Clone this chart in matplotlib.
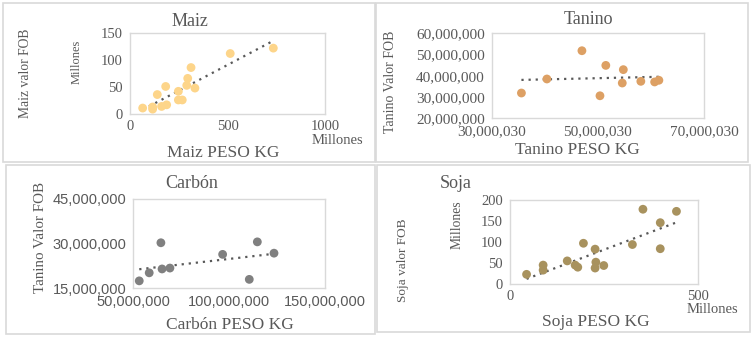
import numpy as np
import matplotlib
matplotlib.use("Agg")
import matplotlib.pyplot as plt
from matplotlib.patches import Rectangle
from matplotlib.ticker import FuncFormatter

# ---------------- data ----------------
maiz_peso = [65, 116, 116, 162, 188, 140, 183, 248, 248, 268, 291, 296, 333, 313, 514, 735]  # millones
maiz_fob = [11, 13, 9, 14, 17, 36, 51, 42, 26, 26, 53, 66, 48, 86, 112, 122]  # millones

tanino_peso = [35.6e6, 40.4e6, 47.0e6, 50.4e6, 51.5e6, 54.8e6, 54.6e6, 58.1e6, 60.7e6, 61.5e6]
tanino_fob = [31.9e6, 38.5e6, 51.8e6, 30.6e6, 44.9e6, 42.9e6, 36.6e6, 37.4e6, 37.1e6, 37.9e6]

carbon_peso = [53.1e6, 58.3e6, 64.4e6, 65.0e6, 69.1e6, 96.6e6, 110.5e6, 114.7e6, 123.4e6]
carbon_fob = [17.5e6, 20.2e6, 30.3e6, 21.5e6, 21.8e6, 26.4e6, 18.0e6, 30.6e6, 26.8e6]

soja_peso = [44, 88, 88, 152, 173, 180, 195, 226, 228, 226, 249, 325, 353, 399, 399, 442]  # millones
soja_fob = [23, 45, 33, 55, 45, 40, 97, 83, 52, 38, 44, 94, 178, 146, 84, 173]  # millones

maiz_xticks = [0, 500, 1000]
maiz_yticks = [0, 50, 100, 150]
tanino_xticks = [30000030, 50000030, 70000030]
tanino_yticks = [20e6, 30e6, 40e6, 50e6, 60e6]
carbon_xticks = [50e6, 100e6, 150e6]
carbon_yticks = [15e6, 30e6, 45e6]
soja_xticks = [0, 500]
soja_yticks = [0, 50, 100, 150, 200]

# ---------------- style ----------------
W, H = 751, 337
SERIF = "Liberation Serif"
SANS = "Liberation Sans"
TXT = "#595959"
TREND = "#595959"

fig = plt.figure(figsize=(W / 100, H / 100), dpi=100)
fig.patch.set_facecolor("white")


def px(x, y):
    return x / W, 1 - y / H


def axes_px(x0, y0, x1, y1):
    return fig.add_axes([x0 / W, 1 - y1 / H, (x1 - x0) / W, (y1 - y0) / H])


def panel(x0, y0, x1, y1):
    fig.patches.append(Rectangle((x0 / W, 1 - y1 / H), (x1 - x0) / W, (y1 - y0) / H,
                                 transform=fig.transFigure, fill=False,
                                 edgecolor="#D9D9D9", linewidth=1.2, zorder=0))


def ftext(x, y, s, size, rot=0, family=SERIF, **kw):
    fig.text(*px(x, y), s, fontsize=size, rotation=rot, family=family, color=TXT,
             ha="center", va="center", **kw)


comma = FuncFormatter(lambda v, p: f"{int(round(v)):,}")
plain = FuncFormatter(lambda v, p: f"{int(round(v))}")


def style_ax(ax, xt, yt, xl, yl, fmt, tickfam, tsize, xpad=5):
    ax.set_xlim(*xl)
    ax.set_ylim(*yl)
    ax.set_xticks(xt)
    ax.set_yticks(yt)
    ax.xaxis.set_major_formatter(fmt)
    ax.yaxis.set_major_formatter(fmt)
    ax.tick_params(length=0, colors=TXT, labelsize=tsize, pad=5)
    ax.tick_params(axis="x", pad=xpad)
    for lab in ax.get_xticklabels() + ax.get_yticklabels():
        lab.set_family(tickfam)
    for s in ax.spines.values():
        s.set_color("#D9D9D9")
        s.set_linewidth(1.0)


def scatter_trend(ax, x, y, color):
    x = np.asarray(x, float)
    y = np.asarray(y, float)
    ax.scatter(x, y, s=40, color=color, edgecolors="none", zorder=3)
    m, b = np.polyfit(x, y, 1)
    xs = np.array([x.min(), x.max()])
    ax.plot(xs, m * xs + b, linestyle=(0, (1, 2.2)), color=TREND, linewidth=1.6, zorder=2)


# panels
panel(3, 3, 375, 162)
panel(376, 3, 748, 162)
panel(6, 165, 375, 334)
panel(377, 165, 750, 332)

# ---- Maiz ----
ax1 = axes_px(130, 33, 325, 114)
scatter_trend(ax1, maiz_peso, maiz_fob, "#FDD58A")
style_ax(ax1, maiz_xticks, maiz_yticks, (0, 1000), (0, 150), plain, SERIF, 10.5, xpad=4)
ftext(190, 21, "Maiz", 13)
ftext(26, 73, "Maiz valor FOB", 9.8, rot=90)
ftext(77, 62, "Millones", 9, rot=90)
ftext(223, 153, "Maiz PESO KG", 12.5)
ftext(337, 140.5, "Millones", 10.5)

# ---- Tanino ----
ax2 = axes_px(491.7, 33.3, 704, 118.3)
scatter_trend(ax2, tanino_peso, tanino_fob, "#DDA064")
style_ax(ax2, tanino_xticks, tanino_yticks, (30000030, 70000030), (20e6, 60e6), comma, SERIF, 11)
ftext(588, 19, "Tanino", 13)
ftext(390, 82, "Tanino Valor FOB", 10, rot=90)
ftext(577, 150, "Tanino PESO KG", 12.5)

# ---- Carbón ----
ax3 = axes_px(133.3, 199, 325, 288.3)
scatter_trend(ax3, carbon_peso, carbon_fob, "#808080")
style_ax(ax3, carbon_xticks, carbon_yticks, (50e6, 150e6), (15e6, 45e6), comma, SANS, 10.5)
ftext(192, 184, "Carbón", 13)
ftext(40, 237, "Tanino Valor FOB", 10.8, rot=90)
ftext(230, 325, "Carbón PESO KG", 12.5)

# ---- Soja ----
ax4 = axes_px(510, 200, 698.3, 284)
scatter_trend(ax4, soja_peso, soja_fob, "#A8925E")
style_ax(ax4, soja_xticks, soja_yticks, (0, 500), (0, 200), plain, SERIF, 10.5, xpad=4)
ftext(456, 183, "Soja", 13)
ftext(403, 260, "Soja valor FOB", 9.5, rot=90)
ftext(457, 225, "Millones", 9.8, rot=90)
ftext(596, 322, "Soja PESO KG", 12.5)
ftext(712, 309.5, "Millones", 10.5)

fig.savefig("out.png", dpi=100, facecolor="white")
